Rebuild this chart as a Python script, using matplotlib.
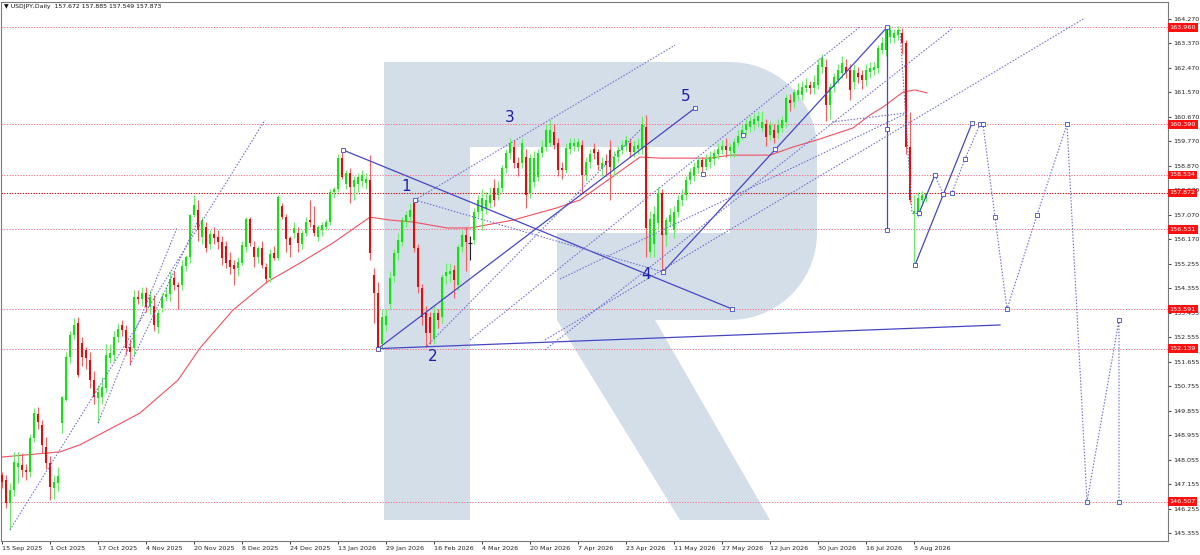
import matplotlib
matplotlib.use("Agg")
import matplotlib.pyplot as plt
import matplotlib.transforms as mtransforms
from matplotlib.patches import Polygon
import numpy as np

# ---------------- data ----------------
opens = [
    147.49, 147.30, 146.46, 146.94, 147.80, 147.86, 147.67, 147.60, 148.85, 149.73,
    149.33, 148.52, 147.93, 147.00, 147.20, 149.40, 150.25, 151.83, 152.64, 153.08,
    152.35, 152.10, 151.72, 150.98, 150.32, 150.36, 150.69, 151.80, 151.90, 152.57,
    153.00, 152.83, 152.20, 152.16, 154.04, 153.97, 154.20, 153.67, 153.70, 152.95,
    153.63, 154.04, 154.15, 154.74, 154.48, 154.48, 155.18, 155.51, 157.06, 157.24,
    156.25, 156.62, 155.99, 156.36, 156.25, 156.06, 155.90, 155.40, 155.22, 155.10,
    155.30, 155.88, 156.91, 155.88, 155.51, 155.84, 155.14, 154.74, 155.66, 155.47,
    157.39, 157.00, 156.20, 156.40, 156.40, 156.00, 156.40, 156.87, 156.70, 156.25,
    156.50, 156.60, 156.80, 157.90, 158.00, 159.15, 158.20, 158.60, 158.10, 158.20,
    158.30, 158.25, 158.35, 154.85, 154.19, 152.30, 153.00, 153.80, 154.80, 155.66,
    156.06, 156.80, 157.00, 157.50, 155.84, 154.37, 153.45, 153.30, 152.50, 153.45,
    153.30, 154.80, 154.90, 155.03, 154.48, 155.88, 156.32, 156.03, 156.14, 157.17,
    157.20, 157.30, 157.50, 158.05, 157.80, 158.05, 158.78, 159.34, 159.56, 158.97,
    158.97, 159.19, 157.87, 158.27, 158.45, 159.34, 159.56, 159.70, 160.10, 159.70,
    158.80, 158.72, 159.50, 159.60, 159.56, 159.63, 158.53, 159.00, 159.48, 159.37,
    158.75, 159.05, 159.45, 158.72, 159.19, 159.45, 159.60, 159.70, 159.37, 159.50,
    159.52, 160.30, 155.70, 156.00, 156.76, 157.87, 156.32, 156.80, 156.50, 157.17,
    157.60, 157.80, 158.35, 158.50, 158.80, 159.08, 158.83, 159.00, 159.10, 159.30,
    159.45, 159.60, 159.40, 159.34, 159.70, 159.95, 160.20, 160.30, 160.40, 160.50,
    160.26, 160.40, 159.99, 160.19, 160.07, 160.26, 160.48, 161.29, 161.20, 161.47,
    161.47, 161.73, 161.84, 161.73, 161.84, 162.51, 162.51, 161.10, 161.77, 162.03,
    162.30, 162.51, 162.40, 161.95, 162.28, 162.21, 162.03, 162.32, 162.40, 162.47,
    163.13, 163.13, 163.60, 163.57, 163.68, 163.76, 163.39, 159.56, 157.13, 157.13,
    157.60, 157.672,
]
highs = [
    147.60, 147.50, 147.20, 148.34, 148.34, 148.30, 147.90, 149.00, 149.96, 150.00,
    149.50, 148.90, 148.20, 147.50, 147.78, 150.40, 152.00, 152.80, 153.27, 153.30,
    152.57, 152.20, 152.00, 151.30, 150.80, 151.10, 152.30, 152.30, 152.80, 153.10,
    153.20, 153.00, 152.50, 154.30, 154.30, 154.40, 154.40, 154.30, 154.10, 153.60,
    154.20, 154.40, 155.00, 155.00, 154.60, 155.40, 155.60, 157.10, 157.79, 157.60,
    157.00, 156.80, 156.50, 156.60, 156.50, 156.30, 156.10, 155.70, 155.40, 155.50,
    156.10, 157.00, 157.00, 156.10, 155.90, 156.10, 155.30, 155.80, 155.90, 157.80,
    157.50, 157.10, 156.30, 156.80, 156.60, 156.50, 157.00, 157.60, 157.40, 156.70,
    156.80, 156.90, 158.00, 158.10, 159.30, 159.41, 158.70, 158.80, 158.50, 158.60,
    158.70, 158.60, 159.27, 155.10, 154.60, 153.60, 153.60, 155.00, 155.80, 156.40,
    157.00, 157.20, 157.50, 157.65, 156.00, 154.50, 153.70, 153.50, 153.70, 153.60,
    154.90, 155.30, 155.30, 155.20, 156.00, 156.50, 156.60, 156.30, 157.30, 157.80,
    158.00, 157.90, 158.10, 158.40, 158.30, 158.90, 159.50, 159.90, 159.80, 159.20,
    159.90, 159.50, 159.30, 159.40, 159.50, 159.80, 160.40, 160.55, 160.40, 159.90,
    159.00, 159.70, 159.90, 159.90, 159.90, 159.80, 159.20, 159.50, 159.70, 159.50,
    159.20, 159.30, 159.80, 159.40, 159.60, 159.80, 160.00, 159.90, 159.80, 159.90,
    160.70, 160.74, 157.20, 157.40, 158.10, 158.00, 157.00, 157.30, 157.40, 157.80,
    158.00, 158.50, 158.80, 159.00, 159.20, 159.20, 159.30, 159.40, 159.50, 159.70,
    159.80, 159.90, 159.70, 159.90, 160.20, 160.40, 160.60, 160.70, 160.80, 160.90,
    160.90, 160.60, 160.50, 160.40, 160.60, 160.70, 161.50, 161.50, 161.70, 161.90,
    162.00, 162.10, 162.00, 162.20, 162.80, 163.00, 162.80, 161.90, 162.30, 162.60,
    162.90, 162.80, 162.60, 162.60, 162.50, 162.40, 162.60, 162.70, 162.70, 163.30,
    163.60, 163.96, 164.00, 163.90, 164.00, 163.95, 163.50, 160.85, 157.80, 157.90,
    157.95, 157.885,
]
lows = [
    147.00, 146.27, 145.47, 146.70, 147.19, 147.40, 147.30, 147.40, 148.70, 149.20,
    148.30, 147.70, 146.57, 146.60, 146.90, 149.03, 150.20, 151.60, 152.50, 151.10,
    151.50, 151.40, 150.70, 150.10, 149.40, 150.10, 150.50, 151.60, 151.70, 152.40,
    152.60, 151.90, 151.54, 151.90, 153.80, 153.70, 153.50, 153.40, 152.80, 152.70,
    153.50, 153.90, 153.90, 154.30, 153.60, 154.30, 155.00, 155.30, 157.00, 156.10,
    156.00, 155.70, 155.80, 156.00, 155.80, 155.20, 155.10, 154.90, 154.48, 154.80,
    155.20, 155.70, 155.90, 155.14, 155.30, 155.10, 154.55, 154.60, 155.40, 155.40,
    156.90, 155.70, 155.50, 156.20, 155.70, 155.80, 156.30, 156.60, 156.30, 156.10,
    156.30, 156.50, 156.70, 157.70, 157.90, 158.40, 158.00, 157.50, 157.60, 157.90,
    158.10, 158.00, 155.40, 153.10, 152.14, 152.14, 152.80, 153.60, 154.60, 155.40,
    155.90, 156.60, 156.80, 155.70, 154.20, 153.00, 152.20, 152.30, 152.30, 152.90,
    153.10, 154.50, 154.60, 154.00, 154.30, 155.70, 155.00, 155.40, 156.00, 157.00,
    156.50, 157.10, 157.30, 157.40, 157.60, 157.90, 158.60, 159.10, 158.80, 158.50,
    158.80, 157.30, 157.70, 158.10, 158.30, 159.20, 159.40, 159.60, 159.50, 158.50,
    158.40, 158.60, 159.30, 159.40, 159.40, 157.87, 158.30, 158.80, 159.10, 158.70,
    158.50, 158.50, 157.60, 158.50, 159.00, 159.30, 159.40, 159.20, 159.20, 159.30,
    159.30, 155.51, 155.50, 155.50, 156.50, 154.96, 155.90, 156.60, 156.20, 157.00,
    157.40, 157.60, 158.20, 158.30, 158.60, 158.60, 158.70, 158.80, 158.90, 159.10,
    159.30, 159.20, 159.20, 159.20, 159.60, 159.80, 160.00, 160.10, 160.20, 160.30,
    160.10, 159.60, 159.80, 159.70, 159.90, 160.10, 160.30, 160.90, 161.00, 161.30,
    161.30, 161.60, 161.50, 161.50, 161.70, 162.30, 160.50, 160.60, 161.60, 161.90,
    162.10, 162.10, 161.30, 161.70, 161.90, 161.70, 161.80, 162.10, 162.20, 162.30,
    163.00, 162.90, 163.40, 163.40, 163.50, 163.00, 159.30, 157.50, 155.26, 157.00,
    157.40, 157.549,
]
closes = [
    147.23, 146.46, 146.94, 147.97, 147.93, 147.67, 147.60, 148.85, 149.77, 149.44,
    148.60, 147.93, 147.05, 147.23, 147.45, 150.36, 151.83, 152.64, 153.00, 151.17,
    151.83, 151.80, 150.98, 150.36, 150.54, 150.73, 151.90, 151.98, 152.57, 152.86,
    152.83, 152.16, 152.00, 154.04, 153.97, 154.20, 153.67, 154.04, 153.00, 153.45,
    154.04, 154.15, 154.70, 154.48, 154.40, 155.18, 155.51, 157.06, 157.43, 156.50,
    156.87, 155.84, 156.36, 156.21, 156.06, 155.47, 155.30, 155.14, 155.07, 155.33,
    155.95, 156.91, 156.03, 155.51, 155.84, 155.22, 154.70, 155.62, 155.47, 157.72,
    156.98, 156.17, 155.95, 156.58, 156.03, 156.40, 156.80, 156.80, 156.40, 156.60,
    156.70, 156.80, 157.90, 158.00, 159.15, 158.46, 158.60, 158.10, 158.35, 158.45,
    158.52, 158.40, 155.66, 154.19, 152.16, 153.30, 153.33, 154.74, 155.66, 156.14,
    156.87, 157.06, 157.24, 155.84, 154.41, 153.30, 152.71, 152.71, 153.45, 153.20,
    154.78, 154.96, 155.00, 154.67, 155.88, 156.32, 156.06, 156.03, 157.17, 157.61,
    157.70, 157.60, 157.80, 157.61, 158.05, 158.78, 159.34, 159.70, 158.97, 158.80,
    159.70, 157.80, 159.15, 159.15, 159.34, 159.56, 160.19, 160.20, 159.64, 158.72,
    158.72, 159.52, 159.70, 159.70, 159.74, 158.53, 159.00, 159.30, 159.34, 158.90,
    158.97, 158.90, 158.83, 159.19, 159.45, 159.63, 159.80, 159.37, 159.60, 159.65,
    160.42, 156.58, 156.90, 157.10, 157.87, 156.32, 156.87, 157.06, 157.17, 157.61,
    157.80, 158.35, 158.64, 158.83, 159.08, 158.83, 159.10, 159.20, 159.35, 159.50,
    159.60, 159.45, 159.55, 159.74, 159.95, 160.20, 160.40, 160.50, 160.60, 160.70,
    160.48, 159.93, 160.37, 159.90, 160.37, 160.55, 161.36, 161.18, 161.58, 161.66,
    161.77, 161.84, 161.73, 161.95, 162.58, 162.84, 161.10, 161.77, 162.14, 162.40,
    162.65, 162.32, 161.66, 162.40, 162.14, 162.03, 162.40, 162.47, 162.51, 163.20,
    163.39, 163.87, 163.87, 163.76, 163.87, 163.39, 159.56, 157.61, 157.20, 157.68,
    157.80, 157.873,
]

# moving average line (bar index, value)
ma_bars = [0, 14.5, 19.5, 28, 34.5, 44, 49.5, 57.75, 66.25, 74.5, 82.75, 92, 97,
           102.75, 111.25, 117, 127.75, 138.75, 144.5, 152, 159.5, 164.5, 177, 182,
           192, 197.75, 203.75, 212.75, 217, 220.25, 225.25, 228.25, 231.25]
ma_values = [148.15, 148.34, 148.60, 149.26, 149.77, 150.98, 152.16, 153.56, 154.59,
             155.29, 156.03, 156.98, 156.87, 156.80, 156.58, 156.58, 156.87, 157.32,
             157.61, 158.40, 159.19, 159.15, 159.15, 159.26, 159.26, 159.56, 159.82,
             160.26, 160.74, 161.03, 161.58, 161.66, 161.55]

date_labels = ["15 Sep 2025", "1 Oct 2025", "17 Oct 2025", "4 Nov 2025", "20 Nov 2025",
               "8 Dec 2025", "24 Dec 2025", "13 Jan 2026", "29 Jan 2026", "16 Feb 2026",
               "4 Mar 2026", "20 Mar 2026", "7 Apr 2026", "23 Apr 2026", "11 May 2026",
               "27 May 2026", "12 Jun 2026", "30 Jun 2026", "16 Jul 2026", "3 Aug 2026"]
date_tick_bars = [0, 12, 24, 36, 48, 60, 72, 84, 96, 108, 120, 132, 144, 156, 168,
                  180, 192, 204, 216, 228]

price_ticks = [164.270, 163.370, 162.470, 161.570, 160.670, 159.770, 158.870, 157.970,
               157.070, 156.170, 155.255, 154.355, 153.455, 152.555, 151.655, 150.755,
               149.855, 148.955, 148.055, 147.155, 146.255, 145.355]

level_values = [163.960, 160.390, 158.534, 156.531, 153.591, 152.139, 146.507]
current_price = 157.872
header = "USDJPY,Daily  157.672 157.885 157.549 157.873"

# analysis drawings: (bar0, price0, bar1, price1)
solid_lines = [
    (85.25, 159.45, 182.5, 153.60),
    (94.0, 152.14, 249.5, 153.01),
    (94.0, 152.14, 173.25, 160.99),
    (165.25, 154.96, 221.25, 163.96),
    (221.25, 163.96, 221.25, 156.51),
    (228.25, 155.22, 242.5, 160.44),
    (229.25, 157.13, 233.25, 158.53),
]
dotted_lines = [
    (2.0, 145.47, 65.75, 160.55),
    (24.0, 149.40, 43.75, 156.58),
    (32.0, 151.54, 48.75, 156.76),
    (103.25, 157.61, 165.25, 154.96),
    (103.25, 157.61, 168.25, 163.31),
    (106.25, 152.24, 160.75, 160.37),
    (135.75, 152.46, 270.75, 164.31),
    (135.75, 152.09, 237.75, 163.94),
    (117.0, 152.46, 214.5, 163.98),
    (139.5, 154.70, 226.25, 160.81),
    (207.5, 160.48, 225.75, 160.81),
    (224.5, 163.87, 227.5, 157.13),
    (227.5, 157.13, 229.25, 157.13),
]
proj_bars = [233.25, 235.25, 237.5, 240.75, 244.5, 245.25, 248.25, 251.25, 258.75,
             266.25, 271.25, 279.25, 279.25]
proj_prices = [158.53, 157.83, 157.87, 159.12, 160.39, 160.39, 156.98, 153.59, 157.06,
               160.39, 146.51, 153.19, 146.51]
marker_bars = [85.25, 103.25, 94.0, 173.25, 165.25, 182.5, 221.25, 221.25, 221.25,
               228.25, 242.5, 229.25, 175.25, 185.25, 193.25]
marker_prices = [159.45, 157.61, 152.14, 160.99, 154.96, 153.60, 163.96, 160.22, 156.51,
                 155.22, 160.44, 157.13, 158.57, 160.00, 159.49]

wave_text = ["1", "2", "3", "4", "5"]
wave_bars = [101.0, 107.75, 127.0, 161.0, 171.0]
wave_prices = [158.12, 151.85, 160.64, 154.85, 161.40]

# ---------------- figure ----------------
W, H = 1200, 555
fig = plt.figure(figsize=(W / 100, H / 100), dpi=100)
fig.patch.set_facecolor("white")
ax = fig.add_axes([1 / W, 14 / H, 1167 / W, 539 / H])
ax.set_facecolor("white")
ax.set_xlim(-0.25, 291.5)
ax.set_ylim(145.06, 164.896)

FONT = "DejaVu Sans"
FS = 4.6
BLUE = "#4646c4"
BLUE_DOT = "#6a6ad0"

# watermark "R" (decoration, in image pixel coordinates)
def arc(cx, cy, r, a0, a1, n=20):
    t = np.radians(np.linspace(a0, a1, n))
    return [(cx + r * np.cos(t_), cy - r * np.sin(t_)) for t_ in t]

outline = [(384, 520), (384, 62), (730, 62)]
outline += arc(730, 149, 87, 90, 0)
outline += [(817, 233)]
outline += arc(730, 233, 87, 0, -90)
outline += [(655, 320), (770, 520), (680, 520), (557, 320), (557, 233), (730, 233),
            (730, 147), (470, 147), (470, 520)]
disp = [(x, H - y) for x, y in outline]
wm = Polygon(disp, closed=True, facecolor="#d4dee9", edgecolor="none",
             transform=mtransforms.IdentityTransform(), zorder=0.5)
ax.add_patch(wm)

# horizontal levels
for lv in level_values:
    ax.axhline(lv, color="#ff6a80", lw=0.7, ls=(0, (1.2, 1.6)), zorder=1)
ax.axhline(current_price, color="#d01010", lw=0.8, ls=(0, (1.2, 1.2)), zorder=1)

# moving average
ax.plot(ma_bars, ma_values, color="#f05060", lw=0.8, zorder=2.5)

# candles
o = np.array(opens); h = np.array(highs); l = np.array(lows); c = np.array(closes)
xb = np.arange(len(o))
up = c > o
dn = c < o
eq = c == o
ax.vlines(xb[up], l[up], h[up], color="#66ee66", lw=0.8, zorder=3)
ax.vlines(xb[dn], l[dn], h[dn], color="#ff5a5a", lw=0.8, zorder=3)
ax.vlines(xb[eq], l[eq], h[eq], color="#222222", lw=0.8, zorder=3)
ax.bar(xb[up], (c - o)[up], bottom=o[up], width=0.72, color="#00f000", lw=0, zorder=4)
ax.bar(xb[dn], (c - o)[dn], bottom=o[dn], width=0.72, color="#ff0000", lw=0, zorder=4)
ax.hlines(o[eq], xb[eq] - 0.4, xb[eq] + 0.4, color="#222222", lw=0.8, zorder=4)

# analysis lines
for b0, p0, b1, p1 in solid_lines:
    ax.plot([b0, b1], [p0, p1], color=BLUE, lw=0.9, zorder=5)
for b0, p0, b1, p1 in dotted_lines:
    ax.plot([b0, b1], [p0, p1], color=BLUE_DOT, lw=0.8, ls=(0, (1.3, 1.5)), zorder=5)
ax.plot(proj_bars, proj_prices, color=BLUE_DOT, lw=0.8, ls=(0, (1.3, 1.5)), zorder=5)
ax.plot(proj_bars, proj_prices, ls="none", marker="s", ms=2.6, mfc="white",
        mec=BLUE, mew=0.6, zorder=6)
ax.plot(marker_bars, marker_prices, ls="none", marker="s", ms=2.6, mfc="white",
        mec=BLUE, mew=0.6, zorder=6)

for t, b, p in zip(wave_text, wave_bars, wave_prices):
    ax.text(b, p, t, color="#1e1eaa", fontsize=11, ha="center", va="center",
            family=FONT, zorder=7)

# axes styling
for s in ax.spines.values():
    s.set_color("#7a7a7a")
    s.set_linewidth(0.8)
ax.yaxis.tick_right()
ax.set_yticks(price_ticks)
ax.set_yticklabels([f"{v:.3f}" for v in price_ticks])
ax.set_xticks(date_tick_bars)
ax.set_xticklabels(date_labels, ha="left")
ax.tick_params(axis="y", which="both", length=2.5, width=0.6, pad=1.5,
               labelsize=FS, colors="#222222", direction="out", left=False)
ax.tick_params(axis="x", which="both", length=2.5, width=0.6, pad=1.0,
               labelsize=FS, colors="#222222", direction="out")
for lab in ax.get_xticklabels() + ax.get_yticklabels():
    lab.set_family(FONT)

# red price labels on axis
ytr = ax.get_yaxis_transform()
for lv in level_values + [current_price]:
    ax.text(1.0012, lv, f"{lv:.3f}", transform=ytr, ha="left", va="center",
            color="white", fontsize=FS, family=FONT, clip_on=False, zorder=10,
            bbox=dict(boxstyle="square,pad=0.28", fc="#ff1010", ec="none"))

# header
ax.text(0.0025, 0.996, "\u25BC " + header, transform=ax.transAxes, ha="left", va="top",
        fontsize=4.4, family=FONT, color="#111111", zorder=10)

fig.savefig("out.png", dpi=100, facecolor="white")
